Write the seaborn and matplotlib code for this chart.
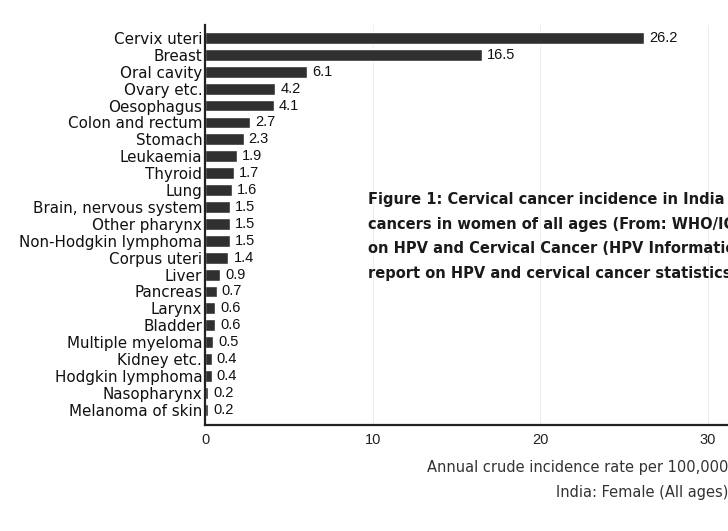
import numpy as np
import pandas as pd
import seaborn as sns
import matplotlib.pyplot as plt

sites = ['Cervix uteri', 'Breast', 'Oral cavity', 'Ovary etc.', 'Oesophagus',
         'Colon and rectum', 'Stomach', 'Leukaemia', 'Thyroid', 'Lung',
         'Brain, nervous system', 'Other pharynx', 'Non-Hodgkin lymphoma',
         'Corpus uteri', 'Liver', 'Pancreas', 'Larynx', 'Bladder',
         'Multiple myeloma', 'Kidney etc.', 'Hodgkin lymphoma', 'Nasopharynx',
         'Melanoma of skin']
rates = [26.2, 16.5, 6.1, 4.2, 4.1, 2.7, 2.3, 1.9, 1.7, 1.6, 1.5, 1.5, 1.5,
         1.4, 0.9, 0.7, 0.6, 0.6, 0.5, 0.4, 0.4, 0.2, 0.2]
xticks = [0, 10, 20, 30]

df = pd.DataFrame({'site': sites, 'rate': rates})

sns.set_style('white')
plt.rcParams['font.family'] = ['Liberation Sans', 'DejaVu Sans']
wide = ['DejaVu Sans']

fig = plt.figure(figsize=(7.28, 5.31), dpi=100)
ax = fig.add_axes([0.2816, 0.1996, 0.7184, 0.7534])

sns.barplot(data=df, x='rate', y='site', color='#303030', width=0.7,
            saturation=1, ax=ax)

for i, v in enumerate(rates):
    ax.text(v + 0.3, i, str(v), va='center', ha='left', fontsize=10.5,
            color='#111111')

ax.set_xlim(0, 31.2)
ax.set_ylim(22.9, -0.77)
ax.set_xticks(xticks)
ax.set_xticklabels([str(t) for t in xticks], fontsize=10.5)
ax.tick_params(axis='y', length=0, pad=2)
for lab in ax.get_yticklabels():
    lab.set_family(wide)
    lab.set_fontsize(10.9)
    lab.set_color('#111111')
ax.tick_params(axis='x', length=4, direction='inout', pad=4, colors='#222222')
ax.set_xlabel('')
ax.set_ylabel('')
for x in xticks[1:]:
    ax.axvline(x, color='#eeeeee', lw=0.8, zorder=0)

for s in ['top', 'right']:
    ax.spines[s].set_visible(False)
for s in ['left', 'bottom']:
    ax.spines[s].set_color('#222222')
    ax.spines[s].set_linewidth(1.6)

fig.text(1.0, 0.12, 'Annual crude incidence rate per 100,000',
         ha='right', va='center', fontsize=10.5, color='#333333', family=wide)
fig.text(1.0, 0.072, 'India: Female (All ages)',
         ha='right', va='center', fontsize=10.5, color='#333333', family=wide)

caption = ('Figure 1: Cervical cancer incidence in India compared to other\n'
           'cancers in women of all ages (From: WHO/ICO Information Centre\n'
           'on HPV and Cervical Cancer (HPV Information Centre). Summary\n'
           'report on HPV and cervical cancer statistics in India, 2010)')
fig.text(368 / 728, 1 - 192 / 531, caption, ha='left', va='top',
         fontsize=10.5, fontweight='bold', color='#1a1a1a', linespacing=1.8,
         family=wide)

fig.savefig('out.png', dpi=100)
